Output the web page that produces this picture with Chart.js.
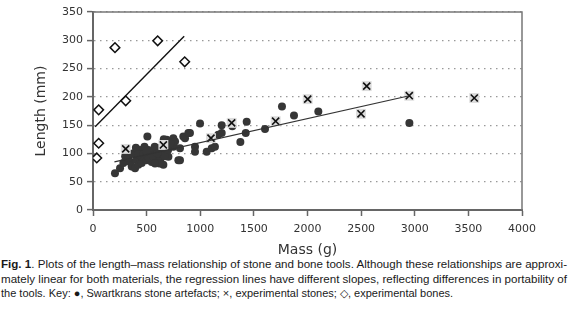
<!DOCTYPE html>
<html>
<head>
<meta charset="utf-8">
<script src="https://cdn.jsdelivr.net/npm/chart.js@4.4.0/dist/chart.umd.min.js"></script>
<style>
  html, body { margin: 0; padding: 0; background: #fff; }
  #wrap { position: relative; width: 568px; height: 311px; overflow: hidden; }
  #massChart { position: absolute; left: 0; top: 0; }
  #caption { position: absolute; left: 1px; top: 257px; width: 566px;
             font-family: "Liberation Sans", Arial, sans-serif; font-size: 11px; color: #1a1a1a; }
  #caption .ln { height: 14.5px; line-height: 14.5px; white-space: nowrap; }
  #caption .ln span { display: inline-block; transform-origin: 0 50%; }
</style>
</head>
<body>
<div id="wrap">
  <canvas id="massChart" width="568" height="257"></canvas>
  <div id="caption">
    <div class="ln"><span><b>Fig. 1</b>. Plots of the length–mass relationship of stone and bone tools. Although these relationships are approxi-</span></div>
    <div class="ln"><span>mately linear for both materials, the regression lines have different slopes, reflecting differences in portability of</span></div>
    <div class="ln"><span>the tools. Key: ●, Swartkrans stone artefacts; ×, experimental stones; ◇, experimental bones.</span></div>
  </div>
</div>
<script>
// --- data: mass (g) vs length (mm) ---
const swartkransMass = [205, 252, 283, 345, 361, 392, 407, 423, 454, 438, 454, 500, 507, 516, 531, 547, 563,
  594, 609, 625, 640, 656, 687, 687, 703, 718, 749, 749, 765, 796, 811, 858, 904, 951, 951, 998, 1060,
  1107, 1137, 1168, 1200, 1200, 300, 330, 370, 400, 420, 470, 480, 500, 520, 560, 575, 600, 620, 650,
  660, 670, 700, 720, 578, 811, 842, 889, 1299, 1374, 1424, 1433, 1604, 1762, 1874, 2101, 2950];
const swartkransLength = [65, 74, 83, 85, 77, 74, 88, 80, 83, 106, 94, 88, 130, 106, 97, 85, 103,
  94, 109, 88, 100, 80, 103, 124, 94, 112, 112, 127, 121, 88, 109, 127, 136, 112, 103, 153, 103,
  109, 112, 133, 150, 136, 95, 92, 100, 110, 98, 100, 112, 104, 92, 96, 112, 100, 82, 110,
  125, 95, 106, 118, 82, 88, 130, 136, 148, 120, 136, 156, 143, 183, 167, 174, 154];

const stoneMass = [305, 656, 1100, 1293, 1703, 2002, 2552, 2499, 2949, 3555];
const stoneLength = [108, 115, 127, 154, 157, 196, 219, 170, 202, 198];

const boneMass = [35, 53, 53, 305, 205, 603, 855];
const boneLength = [92, 118, 177, 193, 287, 299, 262];

// regression lines: end points
const boneFitMass = [20, 850];
const boneFitLength = [147, 307];
const stoneFitMass = [200, 2950];
const stoneFitLength = [85, 202];

const xTicks = [0, 500, 1000, 1500, 2000, 2500, 3000, 3500, 4000];
const yTicks = [0, 50, 100, 150, 200, 250, 300, 350];

const pts = (xs, ys) => xs.map((x, i) => ({ x: x, y: ys[i] }));

// top and right edges of the plot box
const boxFrame = {
  id: 'boxFrame',
  afterDraw(chart) {
    const { ctx, chartArea: a } = chart;
    ctx.save();
    ctx.strokeStyle = '#777';
    ctx.lineWidth = 1.5;
    ctx.beginPath();
    ctx.moveTo(a.left, a.top);
    ctx.lineTo(a.right, a.top);
    ctx.lineTo(a.right, a.bottom);
    ctx.stroke();
    ctx.restore();
  }
};

const tickFont = { family: '"DejaVu Sans", Verdana, sans-serif', size: 11 };
const titleFont = { family: '"DejaVu Sans", Verdana, sans-serif', size: 14, lineHeight: 1 };

new Chart(document.getElementById('massChart'), {
  type: 'scatter',
  data: {
    datasets: [
      {
        label: 'bone fit', data: pts(boneFitMass, boneFitLength), showLine: true,
        borderColor: '#111', borderWidth: 1.4, pointRadius: 0, order: 1
      },
      {
        label: 'stone fit', data: pts(stoneFitMass, stoneFitLength), showLine: true,
        borderColor: '#333', borderWidth: 1.2, pointRadius: 0, order: 2
      },
      {
        label: 'experimental stones', data: pts(stoneMass, stoneLength),
        pointStyle: 'crossRot', pointRadius: 5, borderColor: '#111', borderWidth: 1.6, order: 3
      },
      {
        label: 'stone backing', data: pts(stoneMass, stoneLength),
        pointStyle: 'rect', pointRadius: 7, backgroundColor: '#dcdcdc', borderWidth: 0, order: 4
      },
      {
        label: 'experimental bones', data: pts(boneMass, boneLength),
        pointStyle: 'rectRot', pointRadius: 4.8, backgroundColor: '#fff', borderColor: '#111', borderWidth: 1.5, order: 5
      },
      {
        label: 'Swartkrans', data: pts(swartkransMass, swartkransLength),
        pointStyle: 'circle', pointRadius: 4, backgroundColor: '#363636', borderWidth: 0, order: 6
      }
    ]
  },
  options: {
    responsive: false,
    animation: false,
    devicePixelRatio: 1,
    layout: { padding: { top: 12, right: 46, bottom: 0, left: 0 } },
    plugins: { legend: { display: false }, tooltip: { enabled: false } },
    scales: {
      x: {
        type: 'linear', min: 0, max: 4000,
        afterBuildTicks: (s) => { s.ticks = xTicks.map(v => ({ value: v })); },
        afterFit: (s) => { s.height = 47; },
        grid: { drawOnChartArea: false, tickLength: 6, tickColor: '#666', tickWidth: 1.5 },
        border: { color: '#666', width: 2 },
        ticks: { color: '#333', font: tickFont, padding: 7, maxRotation: 0, callback: (v) => String(v) },
        title: { display: true, text: 'Mass (g)', color: '#333', font: titleFont, padding: { top: 0, bottom: 0 } }
      },
      y: {
        type: 'linear', min: 0, max: 350,
        afterBuildTicks: (s) => { s.ticks = yTicks.map(v => ({ value: v })); },
        afterFit: (s) => { s.width = 93; },
        grid: { color: '#999', lineWidth: 1.2, tickLength: 6, tickColor: '#666', tickWidth: 1.5 },
        border: { color: '#666', width: 2, dash: [1.5, 4.5] },
        ticks: { color: '#333', font: tickFont, padding: 4, callback: (v) => String(v) },
        title: { display: true, text: 'Length (mm)', color: '#333', font: titleFont, padding: { top: 34, bottom: 0 } }
      }
    }
  },
  plugins: [boxFrame]
});

// fit caption lines to the column width (justified look of the printed caption)
const lines = document.querySelectorAll('#caption .ln span');
const full = 566;
const k = [];
lines.forEach((sp, i) => {
  const w = sp.getBoundingClientRect().width;
  k[i] = full / w;
});
lines.forEach((sp, i) => {
  const f = i < 2 ? k[i] : Math.min(1, (k[0] + k[1]) / 2);
  sp.style.transform = 'scaleX(' + f + ')';
});
</script>
</body>
</html>
